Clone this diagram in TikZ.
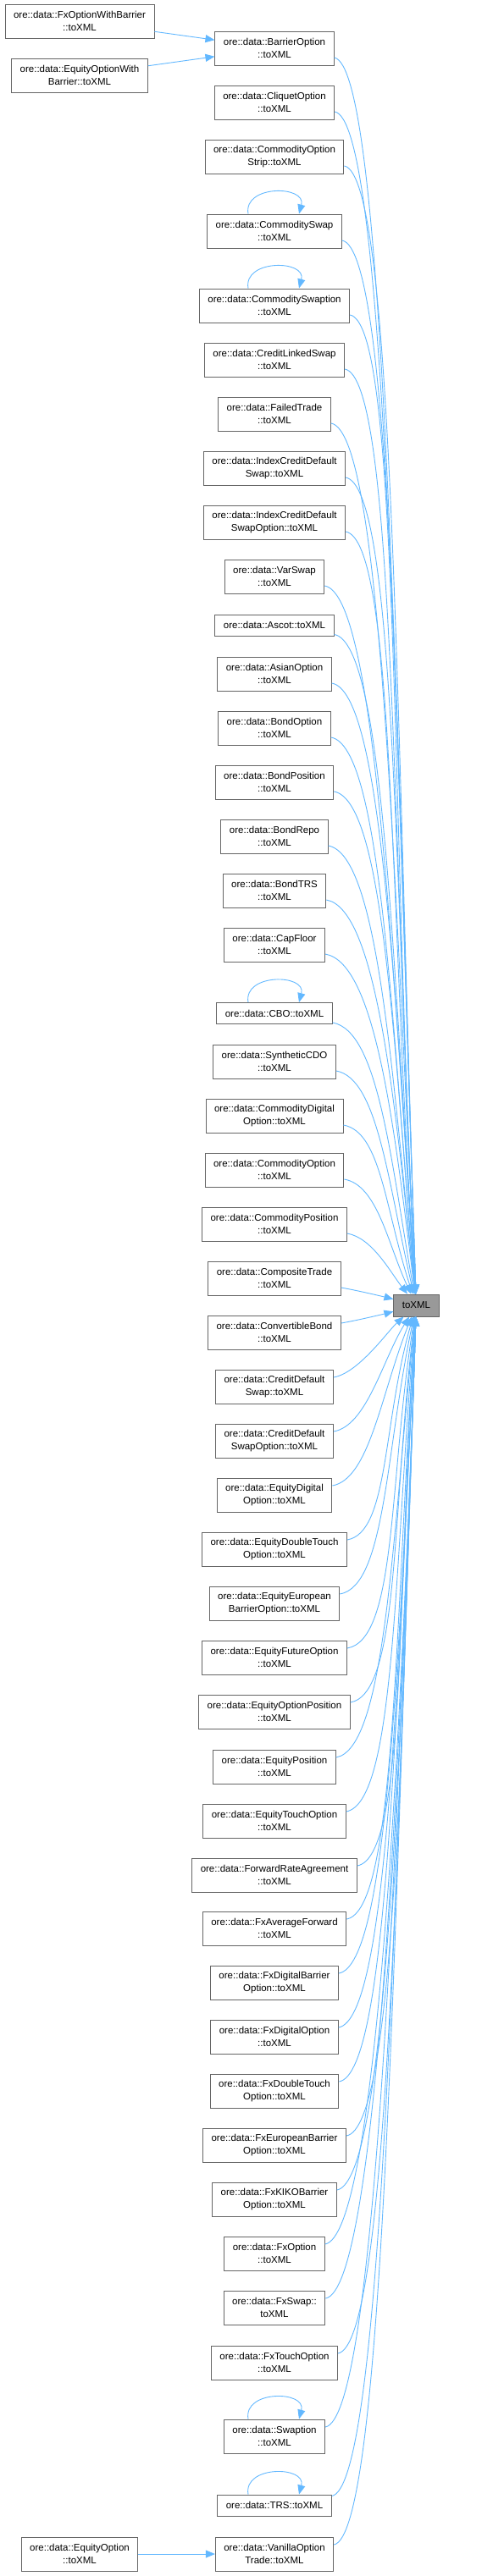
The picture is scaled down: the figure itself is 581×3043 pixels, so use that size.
\documentclass[tikz,border=0pt]{standalone}
\usepackage{fontspec}
\setmainfont{Liberation Sans}
\usetikzlibrary{arrows.meta}

\definecolor{edgeblue}{HTML}{63B8FF}
\definecolor{boxgray}{HTML}{666666}
\definecolor{focusgray}{HTML}{999999}

\begin{document}
\begin{tikzpicture}[x=1pt, y=-1pt,
		fnbox/.style={draw=boxgray, fill=white, line width=0.9pt, align=center, inner xsep=10pt, inner ysep=2pt, minimum height=40, font=\fontsize{11.5}{15}\selectfont},
		fnline/.style={fnbox, minimum height=25},
		callarrow/.style={draw=edgeblue, line width=0.9pt, -{Triangle[length=11pt, width=9pt]}},
		selfcall/.style={callarrow, out=100, in=75, looseness=1.5}]
		\useasboundingbox (0, 0) rectangle (581, 3043);

		\node[fnbox] (fxowb) at (94, 25) {ore::data::FxOptionWithBarrier\\::toXML};
		\node[fnbox] (eqowb) at (94, 89) {ore::data::EquityOptionWith\\Barrier::toXML};
		\node[fnbox] (eqopt) at (94, 3017) {ore::data::EquityOption\\::toXML};

		\node[fnbox] (bar) at (324, 57) {ore::data::BarrierOption\\::toXML};
		\node[fnbox] (cliq) at (324, 121) {ore::data::CliquetOption\\::toXML};
		\node[fnbox] (cos) at (324, 185) {ore::data::CommodityOption\\Strip::toXML};
		\node[fnbox] (cswap) at (324, 273) {ore::data::CommoditySwap\\::toXML};
		\node[fnbox] (cswpt) at (324, 361) {ore::data::CommoditySwaption\\::toXML};
		\node[fnbox] (cls) at (324, 425) {ore::data::CreditLinkedSwap\\::toXML};
		\node[fnbox] (failed) at (324, 489) {ore::data::FailedTrade\\::toXML};
		\node[fnbox] (icds) at (324, 553) {ore::data::IndexCreditDefault\\Swap::toXML};
		\node[fnbox] (icdso) at (324, 617) {ore::data::IndexCreditDefault\\SwapOption::toXML};
		\node[fnbox] (var) at (324, 681) {ore::data::VarSwap\\::toXML};
		\node[fnline] (ascot) at (324, 738.5) {ore::data::Ascot::toXML};
		\node[fnbox] (asian) at (324, 796) {ore::data::AsianOption\\::toXML};
		\node[fnbox] (bondopt) at (324, 860) {ore::data::BondOption\\::toXML};
		\node[fnbox] (bondpos) at (324, 924) {ore::data::BondPosition\\::toXML};
		\node[fnbox] (repo) at (324, 988) {ore::data::BondRepo\\::toXML};
		\node[fnbox] (btrs) at (324, 1052) {ore::data::BondTRS\\::toXML};
		\node[fnbox] (cap) at (324, 1116) {ore::data::CapFloor\\::toXML};
		\node[fnline] (cbo) at (324, 1197) {ore::data::CBO::toXML};
		\node[fnbox] (cdo) at (324, 1254) {ore::data::SyntheticCDO\\::toXML};
		\node[fnbox] (cdig) at (324, 1318) {ore::data::CommodityDigital\\Option::toXML};
		\node[fnbox] (copt) at (324, 1382) {ore::data::CommodityOption\\::toXML};
		\node[fnbox] (cpos) at (324, 1446) {ore::data::CommodityPosition\\::toXML};
		\node[fnbox] (comp) at (324, 1510) {ore::data::CompositeTrade\\::toXML};
		\node[fnbox] (conv) at (324, 1574) {ore::data::ConvertibleBond\\::toXML};
		\node[fnbox] (cds) at (324, 1638) {ore::data::CreditDefault\\Swap::toXML};
		\node[fnbox] (cdso) at (324, 1702) {ore::data::CreditDefault\\SwapOption::toXML};
		\node[fnbox] (edig) at (324, 1766) {ore::data::EquityDigital\\Option::toXML};
		\node[fnbox] (edt) at (324, 1830) {ore::data::EquityDoubleTouch\\Option::toXML};
		\node[fnbox] (eeb) at (324, 1894) {ore::data::EquityEuropean\\BarrierOption::toXML};
		\node[fnbox] (efut) at (324, 1958) {ore::data::EquityFutureOption\\::toXML};
		\node[fnbox] (eopos) at (324, 2022) {ore::data::EquityOptionPosition\\::toXML};
		\node[fnbox] (epos) at (324, 2087) {ore::data::EquityPosition\\::toXML};
		\node[fnbox] (etouch) at (324, 2151) {ore::data::EquityTouchOption\\::toXML};
		\node[fnbox] (fra) at (324, 2215) {ore::data::ForwardRateAgreement\\::toXML};
		\node[fnbox] (fxavg) at (324, 2278) {ore::data::FxAverageForward\\::toXML};
		\node[fnbox] (fxdb) at (324, 2342) {ore::data::FxDigitalBarrier\\Option::toXML};
		\node[fnbox] (fxdig) at (324, 2406) {ore::data::FxDigitalOption\\::toXML};
		\node[fnbox] (fxdt) at (324, 2470) {ore::data::FxDoubleTouch\\Option::toXML};
		\node[fnbox] (fxeb) at (324, 2534) {ore::data::FxEuropeanBarrier\\Option::toXML};
		\node[fnbox] (fxkiko) at (324, 2598) {ore::data::FxKIKOBarrier\\Option::toXML};
		\node[fnbox] (fxo) at (324, 2662) {ore::data::FxOption\\::toXML};
		\node[fnbox] (fxswap) at (324, 2726) {ore::data::FxSwap::\\toXML};
		\node[fnbox] (fxtouch) at (324, 2791) {ore::data::FxTouchOption\\::toXML};
		\node[fnbox] (swpt) at (324, 2878) {ore::data::Swaption\\::toXML};
		\node[fnline] (trs) at (324, 2959.5) {ore::data::TRS::toXML};
		\node[fnbox] (vanilla) at (324, 3017) {ore::data::VanillaOption\\Trade::toXML};

		\node[fnline, fill=focusgray, minimum height=26] (tox) at (491.5, 1542) {toXML};

		\draw[callarrow] (fxowb) -- (bar);
		\draw[callarrow] (eqowb) -- (bar);
		\draw[callarrow] (eqopt) -- (vanilla);

		\foreach \n in {cswap, cswpt, cbo, swpt, trs}
			\draw[selfcall] ([xshift=-31pt]\n.north) to ([xshift=29pt]\n.north);

		\foreach \n/\a/\d/\e in {bar/92/60/740, cliq/92/60/710, cos/92/60/680, cswap/92/60/635, cswpt/93/60/590, cls/93/60/560, failed/93/60/525, icds/93/60/495, icdso/94/60/460, var/94/60/430, ascot/94/60/400, asian/94/60/375, bondopt/95/60/340, bondpos/95/60/310, repo/96/60/275, btrs/96/60/245, cap/97/60/215, cbo/100/55/175, cdo/103/50/150, cdig/108/45/120, copt/115/40/80, cpos/128/30/50, comp/165/25/30}
			\draw[callarrow] ([yshift=-11pt]\n.east) .. controls +(-10:\d pt) and +(\a:\e pt) .. (tox);

		\foreach \n/\a/\d/\e in {conv/195/25/30, cds/222/30/45, cdso/238/40/75, edig/248/45/110, edt/254/50/145, eeb/258/55/175, efut/261/60/210, eopos/263/60/240, epos/264/60/270, etouch/265/60/305, fra/266/60/335, fxavg/266/60/370, fxdb/267/60/400, fxdig/267/60/430, fxdt/267/60/465, fxeb/268/60/495, fxkiko/268/60/530, fxo/268/60/560, fxswap/268/60/590, fxtouch/268/60/625, swpt/268/60/670, trs/268/60/710, vanilla/268/60/740}
			\draw[callarrow] ([yshift=11pt]\n.east) .. controls +(10:\d pt) and +(\a:\e pt) .. (tox);
	\end{tikzpicture}
\end{document}
